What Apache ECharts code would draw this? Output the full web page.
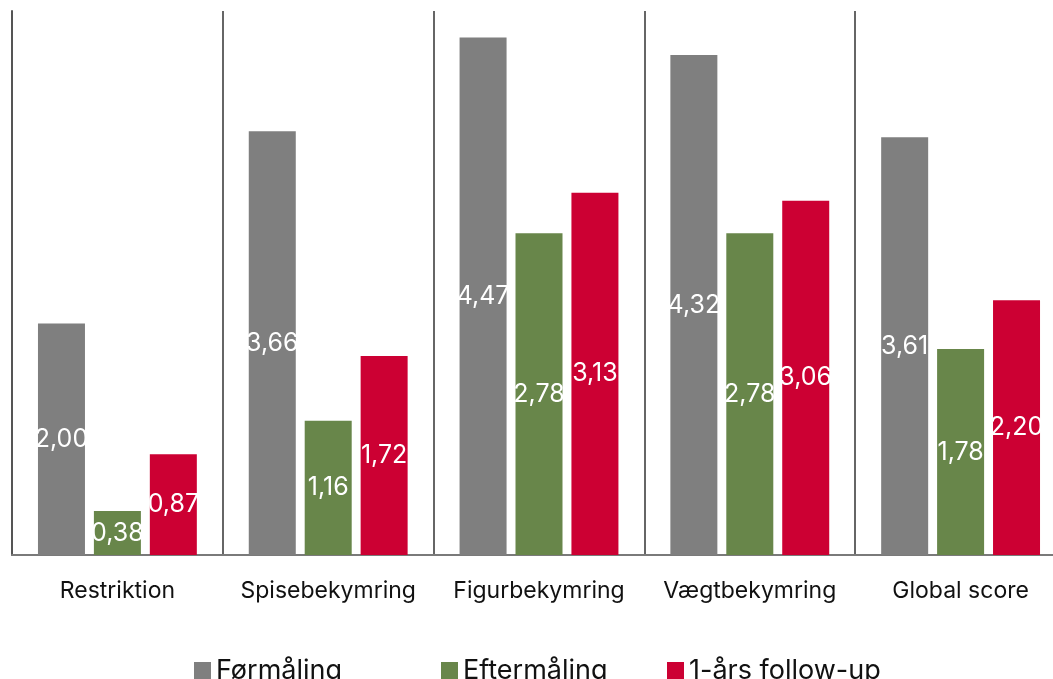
<!DOCTYPE html>
<html>
<head>
<meta charset="utf-8">
<script src="https://cdn.jsdelivr.net/npm/echarts@6/dist/echarts.min.js"></script>
<style>
  html, body { margin: 0; padding: 0; background: #fff; }
  #chart { width: 1053px; height: 679px; }
</style>
</head>
<body>
<div id="chart"></div>
<script>
// EDE-Q subscale means at three measurement points
const categories = ['Restriktion', 'Spisebekymring', 'Figurbekymring', 'Vægtbekymring', 'Global score'];
const seriesNames = ['Førmåling', 'Eftermåling', '1-års follow-up'];
const formaaling = [2.00, 3.66, 4.47, 4.32, 3.61];
const eftermaaling = [0.38, 1.16, 2.78, 2.78, 1.78];
const followUp = [0.87, 1.72, 3.13, 3.06, 2.20];
const colors = ['#7f7f7f', '#68864a', '#cc0033'];

const FONT = 'Inter, "Open Sans", sans-serif';
const chart = echarts.init(document.getElementById('chart'), null, { renderer: 'canvas' });

const values = [formaaling, eftermaaling, followUp];
const legendLefts = [189, 436, 662];

chart.setOption({
  animation: false,
  textStyle: { fontFamily: FONT },
  grid: { left: 12, top: 11, width: 1054, height: 544, containLabel: false, outerBoundsMode: 'none' },
  legend: seriesNames.map((name, i) => ({
    data: [name],
    left: legendLefts[i],
    top: 652,
    itemWidth: 17,
    itemHeight: 17,
    itemGap: 9,
    icon: 'rect',
    textStyle: { fontFamily: FONT, fontSize: 27, color: '#111' }
  })),
  xAxis: {
    type: 'category',
    data: categories,
    boundaryGap: true,
    axisLine: { show: true, lineStyle: { color: '#7a7a7a', width: 2 } },
    axisTick: { show: false },
    splitLine: { show: true, interval: 0, lineStyle: { color: '#666', width: 2 } },
    axisLabel: { interval: 0, hideOverlap: false, margin: 25, fontSize: 23, color: '#111', fontFamily: FONT }
  },
  yAxis: {
    type: 'value',
    min: 0,
    max: 4.7,
    axisLine: { show: true, lineStyle: { color: '#555', width: 2 } },
    axisTick: { show: false },
    axisLabel: { show: false },
    splitLine: { show: false }
  },
  series: seriesNames.map((name, i) => ({
    name: name,
    type: 'bar',
    data: values[i],
    barWidth: 47,
    barGap: '19%',
    itemStyle: { color: colors[i] },
    label: {
      show: true,
      position: 'inside',
      color: '#fff',
      fontSize: 25,
      fontFamily: FONT,
      formatter: p => p.value.toFixed(2).replace('.', ',')
    }
  }))
});
</script>
</body>
</html>
